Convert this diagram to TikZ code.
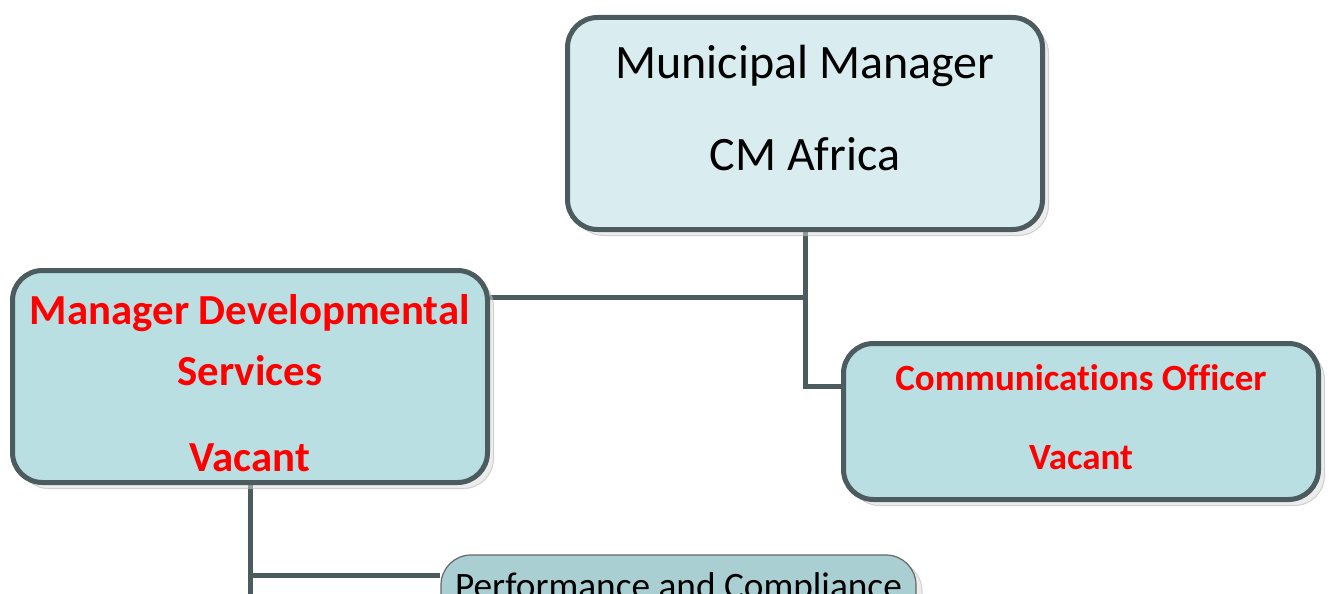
\documentclass[tikz,border=0pt]{standalone}
\usepackage{fontspec}
\setmainfont{Carlito}[Ligatures=NoCommon]
\usetikzlibrary{positioning, shadows, backgrounds}
\definecolor{boxline}{HTML}{4B5B5E}
\definecolor{mmfill}{HTML}{D9EDF0}
\definecolor{postfill}{HTML}{B9DFE3}
\definecolor{subfill}{HTML}{AACFD3}
\definecolor{vacant}{HTML}{FF0000}
\tikzset{
post/.style={draw=boxline, line width=5pt, rounded corners=30pt, fill=postfill,
  minimum width=475pt, inner sep=0pt,
  drop shadow={shadow xshift=6pt, shadow yshift=-6pt, fill=gray!30, draw=gray!65, line width=1pt}}, % boxes of the org chart
subpost/.style={post, draw=gray!80!black, line width=1.2pt, fill=subfill},
posttext/.style={align=center, inner sep=0pt}, % the wording inside a box
link/.style={draw=boxline, line width=5pt}, % reporting lines
}

\begin{document}
\begin{tikzpicture}[x=1pt, y=-1pt]
        \useasboundingbox (0,0) rectangle (1334,594);
        \clip (0,0) rectangle (1334,594);
        % boxes
        \node[post, fill=mmfill, minimum height=212pt] (mm) at (805,123.5) {};
        \node[post, minimum height=212pt] (mds) at (250,376.5) {};
        \node[post, minimum height=156pt] (co) at (1081,421.5) {};
        \node[subpost, minimum height=212pt] (pc) at (678.5,661) {};
        % wording
        \node[posttext, font={\fontsize{48}{92}\selectfont}] (mmtxt) at (805,108.5) {Municipal Manager\\CM Africa};
        \node[posttext, text=vacant, font={\bfseries\fontsize{42.8}{61}\selectfont}] (mdstxt) at (250,383) {Manager Developmental\\Services\\[25pt]Vacant};
        \node[posttext, text=vacant, font={\bfseries\fontsize{37}{79}\selectfont}] (cotxt) at (1081,417) {Communications Officer\\Vacant};
        \node[posttext, anchor=base, font={\fontsize{37.3}{40}\selectfont}] (pctxt) at (678.5,598) {Performance and Compliance};
        % reporting lines
        \coordinate (mmjoin) at (805,297);
        \coordinate (cojoin) at (805,386);
        \coordinate (pcjoin) at (250,575);
        \coordinate (mdsend) at (250,600);
        \begin{scope}[on background layer]
        \draw[link] (mm.south) -- (cojoin) -- (cojoin -| co.west);
        \draw[link] (mmjoin -| mds.east) -- (mmjoin);
        \draw[link] (mds.south) -- (mdsend);
        \draw[link] (pcjoin) -- (pcjoin -| pc.west);
        \end{scope}
\end{tikzpicture}
\end{document}
